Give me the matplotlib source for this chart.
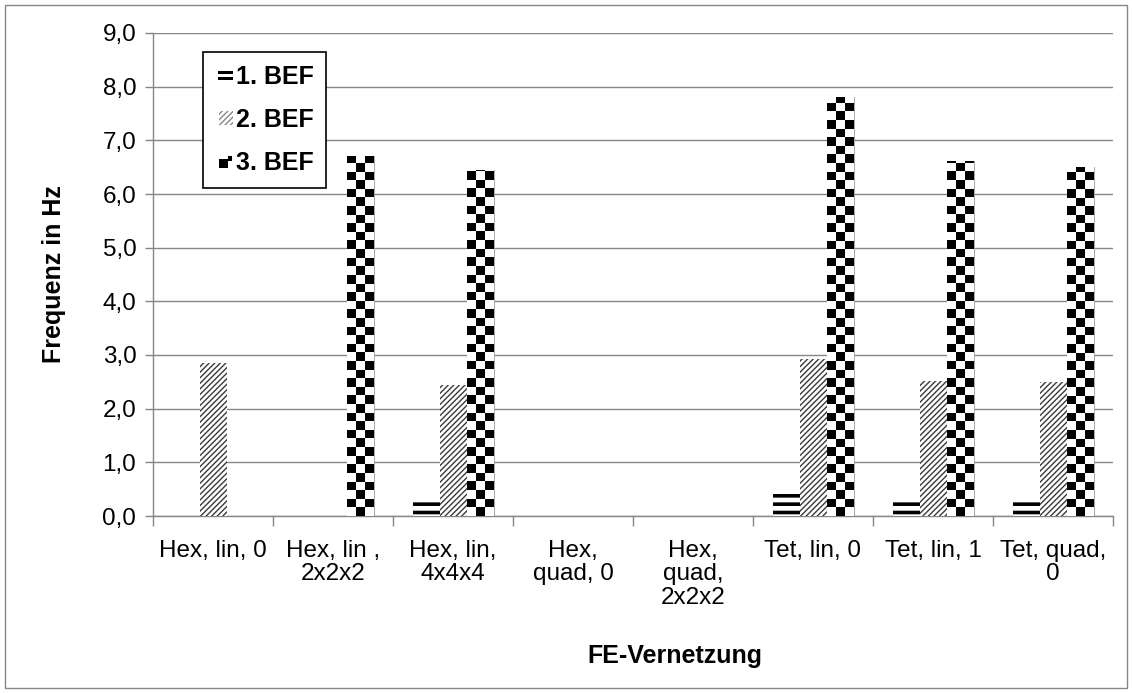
import numpy as np
import matplotlib
matplotlib.use("Agg")
import matplotlib.pyplot as plt
from matplotlib.patches import Rectangle, Patch
from matplotlib.legend_handler import HandlerBase
from matplotlib.ticker import FuncFormatter, MultipleLocator

plt.rcParams['font.family'] = ['Liberation Sans', 'DejaVu Sans']

# Data
categories = ["Hex, lin, 0", "Hex, lin ,\n2x2x2", "Hex, lin,\n4x4x4", "Hex,\nquad, 0",
              "Hex,\nquad,\n2x2x2", "Tet, lin, 0", "Tet, lin, 1", "Tet, quad,\n0"]
series_names = ["1. BEF", "2. BEF", "3. BEF"]
bef1 = [0.0, 0.0, 0.33, 0.0, 0.0, 0.44, 0.33, 0.33]
bef2 = [2.85, 0.0, 2.45, 0.0, 0.0, 2.92, 2.52, 2.50]
bef3 = [0.0, 6.70, 6.45, 0.0, 0.0, 7.80, 6.62, 6.50]

W, H = 1132, 693
fig = plt.figure(figsize=(W / 100, H / 100), dpi=100)
ax = fig.add_axes([153 / W, 1 - 516 / H, 960 / W, 483 / H])

grey = '#868686'
width = 0.225
x = np.arange(len(categories))


def hatch_lw(patches, lw):
    for p in patches:
        if hasattr(p, 'set_hatch_linewidth'):
            p.set_hatch_linewidth(lw)


# 1. BEF: horizontal stripes (thick)
with plt.rc_context({'hatch.linewidth': 2.6}):
    b1 = ax.bar(x - width, bef1, width, facecolor='white', edgecolor='black',
                linewidth=0, hatch='--', zorder=3)
hatch_lw(b1, 2.6)

# 2. BEF: diagonal lines
with plt.rc_context({'hatch.linewidth': 1.0}):
    b2 = ax.bar(x, bef2, width, facecolor='white', edgecolor='#3a3a3a',
                linewidth=0, hatch='//////', zorder=3)
hatch_lw(b2, 1.0)

# 3. BEF: checkerboard
b3 = ax.bar(x + width, bef3, width, facecolor='white', edgecolor='#999999',
            linewidth=0.6, zorder=3)
sq = 8.6 * 9 / 483.0  # square height in data units (~8.6 px)
for rect, h in zip(b3, bef3):
    if h <= 0:
        continue
    x0 = rect.get_x()
    nrows = int(np.ceil(h / sq))
    board = (np.add.outer(np.arange(nrows), np.arange(3)) % 2).astype(float)
    board = board[::-1]
    im = ax.imshow(board, cmap='gray_r', vmin=0, vmax=1, interpolation='nearest',
                   extent=(x0, x0 + width, 0, nrows * sq), aspect='auto', zorder=4)
    im.set_clip_path(rect)

ax.set_xlim(-0.5, len(categories) - 0.5)
ax.set_ylim(0, 9)

ax.yaxis.set_major_locator(MultipleLocator(1))
ax.yaxis.set_major_formatter(FuncFormatter(lambda v, p: f"{v:.1f}".replace('.', ',')))
ax.grid(axis='y', color=grey, linewidth=1, zorder=0)
ax.set_axisbelow(True)

ax.set_xticks(x)
ax.set_xticklabels(categories, va='top', ha='center', linespacing=1.1)
ax.set_xticks(np.arange(-0.5, len(categories), 1), minor=True)
ax.tick_params(axis='x', which='major', length=0, pad=17, labelsize=17.5)
ax.tick_params(axis='x', which='minor', length=7, color=grey, width=1)
ax.tick_params(axis='y', length=6, color=grey, width=1, labelsize=17.5, pad=6)

for s in ['top', 'right']:
    ax.spines[s].set_visible(False)
for s in ['left', 'bottom']:
    ax.spines[s].set_color(grey)
    ax.spines[s].set_linewidth(1)

ax.set_ylabel("Frequenz in Hz", fontsize=18, fontweight='bold', labelpad=26)
fig.text(675 / W, 1 - 656 / H, "FE-Vernetzung", fontsize=18,
         fontweight='bold', ha='center', va='center')


class CheckerHandler(HandlerBase):
    def create_artists(self, legend, orig_handle, xdescent, ydescent, width, height,
                       fontsize, trans):
        x0 = -xdescent + width * 0.2
        y0 = -ydescent + height * 0.1
        b = height * 0.6
        arts = [Rectangle((x0, y0), b, b, facecolor='black', edgecolor='none', transform=trans),
                Rectangle((x0 + b, y0 + b * 0.75), b * 0.45, b * 0.55, facecolor='black',
                          edgecolor='none', transform=trans)]
        return arts


class StripeHandler(HandlerBase):
    def create_artists(self, legend, orig_handle, xdescent, ydescent, width, height,
                       fontsize, trans):
        x0 = -xdescent + width * 0.15
        y0 = -ydescent
        w = width * 0.85
        t = height * 0.22
        arts = [Rectangle((x0, y0 + height * 0.12), w, t, facecolor='black', edgecolor='none', transform=trans),
                Rectangle((x0, y0 + height * 0.55), w, t, facecolor='black', edgecolor='none', transform=trans)]
        return arts


class HatchHandler(HandlerBase):
    def create_artists(self, legend, orig_handle, xdescent, ydescent, width, height,
                       fontsize, trans):
        x0 = -xdescent + width * 0.2
        y0 = -ydescent + height * 0.05
        with plt.rc_context({'hatch.linewidth': 1.0}):
            r = Rectangle((x0, y0), width * 0.8, height * 0.9, facecolor='white', edgecolor='#888888',
                          linewidth=0, hatch='//////', transform=trans)
        if hasattr(r, 'set_hatch_linewidth'):
            r.set_hatch_linewidth(1.0)
        return [r]


h1 = Patch(facecolor='white')
h2 = Patch(facecolor='white')
h3 = Patch(facecolor='white')
leg = ax.legend([h1, h2, h3], series_names, loc='upper left',
                bbox_to_anchor=(50 / 960, (516 - 52) / 483), borderaxespad=0,
                handler_map={h1: StripeHandler(), h2: HatchHandler(), h3: CheckerHandler()},
                prop={'weight': 'bold', 'size': 18}, frameon=True, fancybox=False,
                edgecolor='black', framealpha=1, handlelength=0.7, handleheight=0.55,
                handletextpad=0.12, labelspacing=0.78, borderpad=0.5)
leg.get_frame().set_linewidth(1.2)
leg.set_zorder(10)

fig.patches.append(Rectangle((5 / W, 5 / H), 1122 / W, 683 / H, transform=fig.transFigure,
                             facecolor='none', edgecolor=grey, linewidth=1))

fig.savefig("out.png", dpi=100)
